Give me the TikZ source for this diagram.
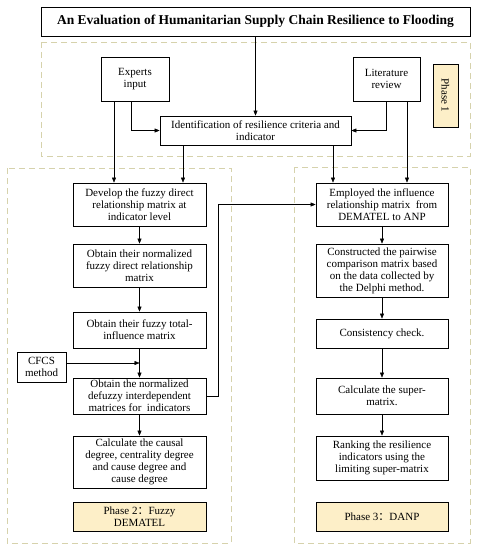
\documentclass[tikz,border=0pt]{standalone}
\usepackage{fontspec}
\setmainfont{Liberation Serif}
\newfontfamily\cjk{Noto Sans CJK SC}
\usetikzlibrary{arrows.meta}

\definecolor{dashcol}{RGB}{214,210,172}
\definecolor{phasecol}{RGB}{253,239,200}

\begin{document}
\begin{tikzpicture}[x=1pt, y=-1pt,
    main/.style = {draw, thick, align=center, inner sep=1pt, font=\fontsize{11}{12}\selectfont},
    phase/.style = {main, fill=phasecol},
    zone/.style = {draw=dashcol, thick, dash pattern=on 6pt off 4pt},
    >={Triangle[length=5pt, width=4pt]}]
        \useasboundingbox (0, 0) rectangle (478, 550);

        % dashed phase areas
        \draw[zone] (41, 42) rectangle (470, 156);
        \draw[zone] (7, 168) rectangle (231, 543);
        \draw[zone] (294, 167) rectangle (470, 543);

        \node[main, minimum width=429pt, minimum height=29pt, font=\bfseries\fontsize{13.5}{15}\selectfont] (t) at (255.5, 21.5) {An Evaluation of Humanitarian Supply Chain Resilience to Flooding};

        % phase 1
        \node[main, minimum width=68pt, minimum height=44pt] (e) at (135, 79) {Experts\\input};
        \node[main, minimum width=67pt, minimum height=44pt] (l) at (386.5, 79) {Literature\\review};
        \node[phase, rotate=-90, minimum width=63pt, minimum height=25pt] (p1) at (445.5, 95.5) {Phase 1};
        \node[main, minimum width=191pt, minimum height=29pt] (id) at (255.5, 130.5) {Identification of resilience criteria and\\indicator};

        % phase 2
        \node[main, minimum width=133pt, minimum height=43pt] (d1) at (139.5, 204.5) {Develop the fuzzy direct\\relationship matrix at\\indicator level};
        \node[main, minimum width=133pt, minimum height=43pt] (d2) at (139.5, 265.5) {Obtain their normalized\\fuzzy direct relationship\\matrix};
        \node[main, minimum width=133pt, minimum height=36pt] (d3) at (139.5, 330) {Obtain their fuzzy total-\\influence matrix};
        \node[main, minimum width=49pt, minimum height=30pt] (c) at (41.5, 367) {CFCS\\method};
        \node[main, minimum width=133pt, minimum height=36pt] (d4) at (139.5, 396) {Obtain the normalized\\defuzzy interdependent\\matrices for \ indicators};
        \node[main, minimum width=133pt, minimum height=52pt] (d5) at (139.5, 462) {Calculate the causal\\degree, centrality degree\\and cause degree and\\cause degree};
        \node[phase, minimum width=133pt, minimum height=29pt] (p2) at (139.5, 516.5) {Phase 2{\cjk ：}Fuzzy\\DEMATEL};

        % phase 3
        \node[main, minimum width=132pt, minimum height=43pt] (r1) at (382, 204.5) {Employed the influence\\relationship matrix \ from\\DEMATEL to ANP};
        \node[main, minimum width=132pt, minimum height=53pt] (r2) at (382, 270.5) {Constructed the pairwise\\comparison matrix based\\on the data collected by\\the Delphi method.};
        \node[main, minimum width=132pt, minimum height=29pt] (r3) at (382, 333.5) {Consistency check.};
        \node[main, minimum width=132pt, minimum height=36pt] (r4) at (382, 396) {Calculate the super-\\matrix.};
        \node[main, minimum width=132pt, minimum height=44pt] (r5) at (382, 458) {Ranking the resilience\\indicators using the\\limiting super-matrix};
        \node[phase, minimum width=132pt, minimum height=29pt] (p3) at (382, 516.5) {Phase 3{\cjk ：}DANP};

        \draw[->] (t) -- (id);
        \draw[->] ([xshift=-21pt]e.south) -- ([xshift=-21pt]e.south |- d1.north);
        \draw[->] ([xshift=-4pt]e.south) |- (id.west);
        \draw[->] (l.south) |- (id.east);
        \draw[->] ([xshift=20.5pt]l.south) -- ([xshift=20.5pt]l.south |- r1.north);
        \draw[->] ([xshift=-72.5pt]id.south) -- ([xshift=-72.5pt]id.south |- d1.north);
        \draw[->] ([xshift=77.5pt]id.south) -- ([xshift=77.5pt]id.south |- r1.north);

        \draw[->] (d1) -- (d2);
        \draw[->] (d2) -- (d3);
        \draw[->] (d3) -- (d4);
        \draw[->] (d4) -- (d5);
        \draw[->] ([yshift=4pt]c.east) -- ([yshift=4pt]c.east -| d3.south);
        \draw[->] (d4.east) -- ++(12, 0) |- (r1.west);

        \draw[->] (r1) -- (r2);
        \draw[->] (r2) -- (r3);
        \draw[->] (r3) -- (r4);
        \draw[->] (r4) -- (r5);
    \end{tikzpicture}
\end{document}
